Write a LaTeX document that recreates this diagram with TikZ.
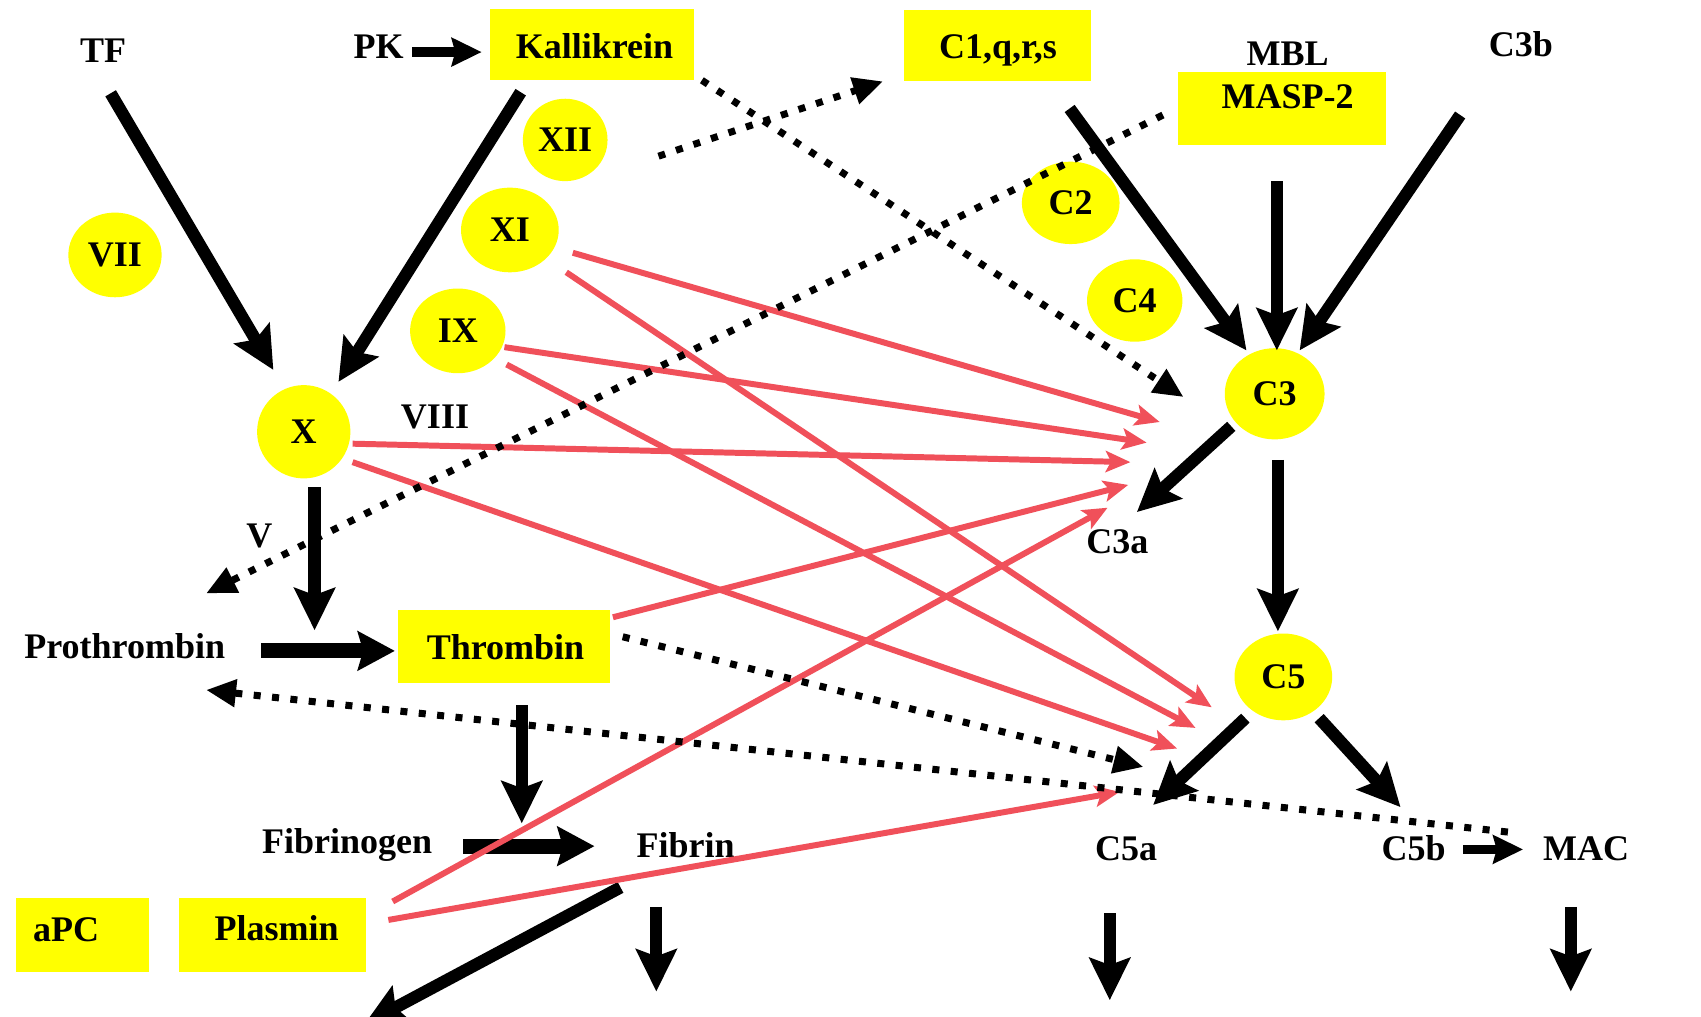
\documentclass[tikz,border=0pt]{standalone}
\usepackage{fontspec}
\setmainfont{Liberation Serif}
\usetikzlibrary{arrows.meta,shapes.geometric}
\definecolor{factoryellow}{RGB}{255,255,0}
\definecolor{crossred}{RGB}{240,80,90}
\begin{document}
\begin{tikzpicture}[x=0.0217cm,y=-0.0217cm,
  lbl/.style={font=\fontsize{20.5}{24}\selectfont\bfseries, inner sep=0pt},
  txt/.style={lbl, anchor=base},
  disc/.style={ellipse, fill=factoryellow, lbl},
  panel/.style={rectangle, fill=factoryellow, inner sep=0pt},
  cascade/.style={line width=7pt, -{Stealth[length=24pt,width=23pt,inset=4pt]}},
  conversion/.style={line width=8.5pt, -{Stealth[length=21pt,width=22pt,inset=3pt]}},
  smallconv/.style={line width=5.5pt, -{Stealth[length=17pt,width=16pt,inset=2pt]}},
  feedback/.style={line width=4pt, dash pattern=on 4pt off 6.5pt, -{Triangle[length=17pt,width=15pt]}},
  crosstalk/.style={draw=crossred, line width=3.4pt, -{Stealth[length=14pt,width=12pt,inset=3pt]}},
]
\clip (0,0) rectangle (1568,937);
\fill[white] (0,0) rectangle (1568,937);

% ---- factor discs ----
\node[disc, minimum width=53.1pt, minimum height=48.2pt] (vii) at (106,235) {VII};
\node[disc, minimum width=48.2pt, minimum height=46.9pt] (xii) at (521,129) {XII};
\node[disc, minimum width=55.6pt, minimum height=48.2pt] (xi)  at (470,212) {XI};
\node[disc, minimum width=54.3pt, minimum height=48.2pt] (ix)  at (422,305) {IX};
\node[disc, minimum width=53.1pt, minimum height=53.1pt] (x)   at (280,398) {X};
\node[disc, minimum width=55.6pt, minimum height=46.9pt] (c2)  at (987,187) {C2};
\node[disc, minimum width=54.3pt, minimum height=46.9pt] (c4)  at (1046,277) {C4};
\node[disc, minimum width=56.8pt, minimum height=51.9pt] (c3)  at (1175,363) {C3};
\node[disc, minimum width=55.6pt, minimum height=49.4pt] (c5)  at (1183,624) {C5};

% ---- enzyme panels ----
\node[panel, minimum width=116.1pt, minimum height=40.7pt] (kallikrein-panel) at (546,41) {};
\node[panel, minimum width=106.8pt, minimum height=40.7pt] (c1-panel) at (919.5,42) {};
\node[panel, minimum width=118.5pt, minimum height=42pt] (masp-panel) at (1182,100) {};
\node[panel, minimum width=120.4pt, minimum height=42pt] (thrombin-panel) at (464.5,596) {};
\node[panel, minimum width=75.3pt, minimum height=42pt] (apc-panel) at (76,862) {};
\node[panel, minimum width=106.2pt, minimum height=42pt] (plasmin-panel) at (251,862) {};

% ---- labels ----
\node[txt] (tf) at (95,58) {TF};
\node[txt] (pk) at (349,54) {PK};
\node[txt] (kallikrein) at (548,54) {Kallikrein};
\node[txt] (c1) at (920,54) {C1,q,r,s};
\node[txt] (mbl) at (1187,60) {MBL};
\node[txt] (masp) at (1187,100) {MASP-2};
\node[txt] (c3b) at (1402,52) {C3b};
\node[txt] (viii) at (401,395) {VIII};
\node[txt] (v) at (239,505) {V};
\node[txt] (prothrombin) at (115,607) {Prothrombin};
\node[txt] (thrombin) at (466,608) {Thrombin};
\node[txt] (fibrinogen) at (320,787) {Fibrinogen};
\node[txt] (fibrin) at (632,790) {Fibrin};
\node[txt] (c3a) at (1030,510) {C3a};
\node[txt] (c5a) at (1038,793) {C5a};
\node[txt] (c5b) at (1303,793) {C5b};
\node[txt] (mac) at (1462,793) {MAC};
\node[txt] (apc) at (61,868) {aPC};
\node[txt] (plasmin) at (255,867) {Plasmin};

% ---- connector end points ----
\coordinate (tf-out) at (102,86);      \coordinate (x-in-tf) at (252,341);
\coordinate (kal-out) at (480,85);     \coordinate (x-in-kal) at (312,352);
\coordinate (pk-out) at (380,48);      \coordinate (kal-in) at (444,48);
\coordinate (c1-out) at (986,100);     \coordinate (c3-in-c1) at (1149,323);
\coordinate (masp-out) at (1177,167);  \coordinate (c3-in-masp) at (1177,323);
\coordinate (c3b-out) at (1346,106);   \coordinate (c3-in-c3b) at (1198,323);
\coordinate (c3-out-a) at (1135,393);  \coordinate (c3a-in) at (1048,472);
\coordinate (c3-out-5) at (1178,424);  \coordinate (c5-in) at (1178,582);
\coordinate (c5-out-a) at (1148,662);  \coordinate (c5a-in) at (1063,742);
\coordinate (c5-out-b) at (1216,662);  \coordinate (c5b-in) at (1291,744);
\coordinate (c5b-out) at (1349,783);   \coordinate (mac-in) at (1404,783);
\coordinate (x-out) at (290,449);      \coordinate (pro-step) at (290,581);
\coordinate (pro-out) at (241,600);    \coordinate (thr-in) at (364,600);
\coordinate (thr-out) at (481,650);    \coordinate (fbg-step) at (481,759);
\coordinate (fbg-out) at (427,780);    \coordinate (fib-in) at (548,780);
\coordinate (fib-out) at (572,818);    \coordinate (lysis) at (336,944);
\coordinate (fib-top) at (605,836);    \coordinate (fib-down) at (605,914);
\coordinate (c5a-top) at (1023,842);   \coordinate (c5a-down) at (1023,922);
\coordinate (mac-top) at (1448,836);   \coordinate (mac-down) at (1448,914);

\coordinate (kal-dot) at (647,74);     \coordinate (c3-dot-in) at (1091,366);
\coordinate (xii-dot) at (607,144);    \coordinate (c1-dot-in) at (814,75);
\coordinate (masp-dot) at (1072,106);  \coordinate (v-dot-in) at (190,547);
\coordinate (thr-dot) at (574,587);    \coordinate (c5a-dot-in) at (1054,707);
\coordinate (mac-dot) at (1390,767);   \coordinate (pro-dot-in) at (190,636);

\coordinate (xi-r1) at (528,233);      \coordinate (c3-r1) at (1069,389);
\coordinate (xi-r2) at (522,251);      \coordinate (c5-r1) at (1117,652);
\coordinate (ix-r1) at (465,320);      \coordinate (c3-r2) at (1057,408);
\coordinate (ix-r2) at (467,336);      \coordinate (c5-r2) at (1102,671);
\coordinate (x-r1) at (325,409);       \coordinate (c3-r3) at (1042,426);
\coordinate (x-r2) at (325,426);       \coordinate (c5-r3) at (1085,690);
\coordinate (thr-r) at (565,569);      \coordinate (c3-r4) at (1040,447);
\coordinate (pla-r1) at (362,831);     \coordinate (c3-r5) at (1021,468);
\coordinate (pla-r2) at (358,848);     \coordinate (c5a-r) at (1032,730);

% ---- main cascades ----
\draw[cascade] (tf-out) -- (x-in-tf);
\draw[cascade] (kal-out) -- (x-in-kal);
\draw[cascade] (c1-out) -- (c3-in-c1);
\draw[cascade] (masp-out) -- (c3-in-masp);
\draw[cascade] (c3b-out) -- (c3-in-c3b);
\draw[cascade] (c3-out-a) -- (c3a-in);
\draw[cascade] (c3-out-5) -- (c5-in);
\draw[cascade] (c5-out-a) -- (c5a-in);
\draw[cascade] (c5-out-b) -- (c5b-in);
\draw[cascade] (x-out) -- (pro-step);
\draw[cascade] (thr-out) -- (fbg-step);
\draw[cascade] (fib-out) -- (lysis);
\draw[cascade] (fib-top) -- (fib-down);
\draw[cascade] (c5a-top) -- (c5a-down);
\draw[cascade] (mac-top) -- (mac-down);

\draw[conversion] (pro-out) -- (thr-in);
\draw[conversion] (fbg-out) -- (fib-in);
\draw[smallconv] (pk-out) -- (kal-in);
\draw[smallconv] (c5b-out) -- (mac-in);

% ---- cross-talk between coagulation and complement ----
\draw[crosstalk] (xi-r1) -- (c3-r1);
\draw[crosstalk] (xi-r2) -- (c5-r1);
\draw[crosstalk] (ix-r1) -- (c3-r2);
\draw[crosstalk] (ix-r2) -- (c5-r2);
\draw[crosstalk] (x-r1) -- (c3-r3);
\draw[crosstalk] (x-r2) -- (c5-r3);
\draw[crosstalk] (thr-r) -- (c3-r4);
\draw[crosstalk] (pla-r1) -- (c3-r5);
\draw[crosstalk] (pla-r2) -- (c5a-r);

% ---- dotted activation routes ----
\draw[feedback] (kal-dot) -- (c3-dot-in);
\draw[feedback] (xii-dot) -- (c1-dot-in);
\draw[feedback] (masp-dot) -- (v-dot-in);
\draw[feedback] (thr-dot) -- (c5a-dot-in);
\draw[feedback] (mac-dot) -- (pro-dot-in);
\end{tikzpicture}
\end{document}
